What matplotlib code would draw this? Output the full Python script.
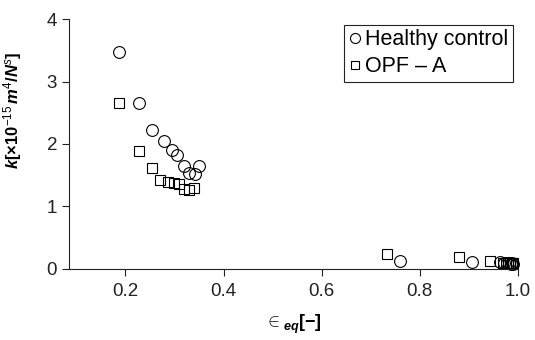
import matplotlib
matplotlib.use('Agg')
import matplotlib.pyplot as plt

# healthy control (circles)
healthy_eps = [0.186, 0.227, 0.255, 0.278, 0.294, 0.306, 0.320, 0.349, 0.329, 0.341,
               0.759, 0.906, 0.963, 0.972, 0.977, 0.981, 0.985, 0.988, 0.991]
healthy_k = [3.48, 2.66, 2.22, 2.04, 1.90, 1.83, 1.65, 1.65, 1.53, 1.52,
             0.13, 0.11, 0.11, 0.09, 0.09, 0.09, 0.08, 0.09, 0.08]

# OPF - A (squares)
opf_eps = [0.186, 0.227, 0.254, 0.271, 0.286, 0.300, 0.310, 0.320, 0.329, 0.340,
           0.733, 0.880, 0.943, 0.970, 0.975, 0.979, 0.983, 0.987, 0.990]
opf_k = [2.66, 1.88, 1.61, 1.42, 1.39, 1.37, 1.36, 1.28, 1.27, 1.30,
         0.24, 0.19, 0.13, 0.10, 0.10, 0.10, 0.10, 0.09, 0.10]

xticks = [0.2, 0.4, 0.6, 0.8, 1.0]
yticks = [0, 1, 2, 3, 4]

plt.rcParams['font.family'] = ['Liberation Sans', 'DejaVu Sans']
plt.rcParams['mathtext.fontset'] = 'custom'
plt.rcParams['mathtext.rm'] = 'Liberation Sans'
plt.rcParams['mathtext.it'] = 'Liberation Sans:italic'
plt.rcParams['mathtext.bf'] = 'Liberation Sans:bold'
plt.rcParams['mathtext.bfit'] = 'Liberation Sans:bold:italic'

fig = plt.figure(figsize=(5.35, 3.4), dpi=100)
ax = fig.add_axes([0.129, 0.209, 0.839, 0.735])

ax.plot(healthy_eps, healthy_k, 'o', ms=8.5, mfc='none', mec='black', mew=0.8,
        clip_on=False, label='Healthy control')
ax.plot(opf_eps, opf_k, 's', ms=7, mfc='none', mec='black', mew=0.8,
        clip_on=False, label='OPF – A')

ax.set_xlim(0.085, 1.0)
ax.set_ylim(0, 4)
ax.set_xticks(xticks)
ax.set_xticklabels(['%.1f' % v for v in xticks])
ax.set_yticks(yticks)
ax.spines['top'].set_visible(False)
ax.spines['right'].set_visible(False)
for s in ('left', 'bottom'):
    ax.spines[s].set_linewidth(0.8)
    ax.spines[s].set_color('#222222')
ax.tick_params(direction='out', length=5, width=0.8, labelsize=13.5,
               color='#222222', labelcolor='#222222')
ax.tick_params(axis='x', pad=5)

ax.set_xlabel(r'$\in_{\mathbfit{eq}}\mathbf{[-]}$', fontsize=13, labelpad=9)
ax.set_ylabel(r'$\mathbfit{k}\mathbf{[\times10}^{-15}\,\mathbfit{m}^{4}\mathbf{/}\mathbfit{N}^{s}\mathbf{]}$',
              fontsize=12)
ax.yaxis.set_label_coords(-0.1, 0.636)

leg = ax.legend(loc='upper right', bbox_to_anchor=(513 / 535, 1 - 25 / 340),
                bbox_transform=fig.transFigure, fontsize=15.5, frameon=True, fancybox=False,
                edgecolor='#222222', framealpha=1, markerscale=0.85, handlelength=0.6,
                handletextpad=0.2, borderpad=0.2, labelspacing=0.28, borderaxespad=0)
leg.get_frame().set_linewidth(0.8)

fig.savefig('out.png', dpi=100)
